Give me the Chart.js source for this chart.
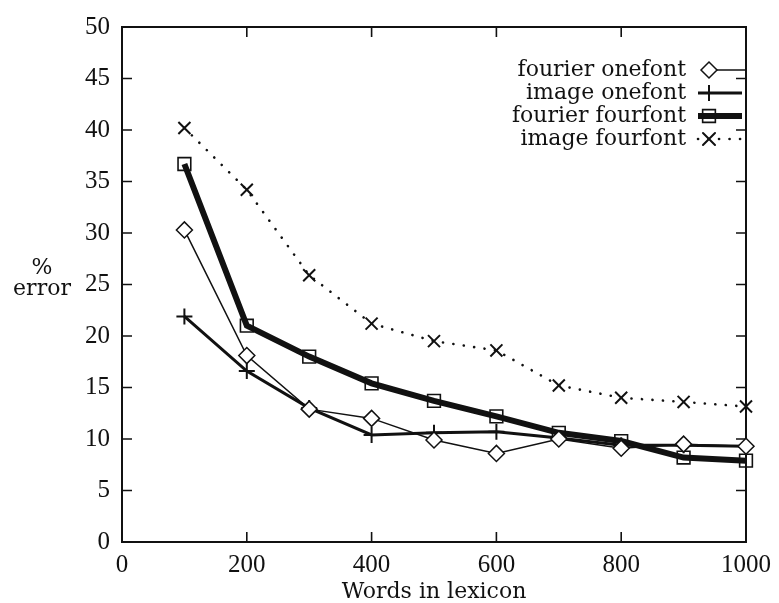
<!DOCTYPE html>
<html><head><meta charset="utf-8">
<script src="https://cdn.jsdelivr.net/npm/chart.js@4.4.1/dist/chart.umd.min.js"></script>
<style>html,body{margin:0;padding:0;background:#fff;}canvas{display:block;}</style>
</head><body>
<canvas id="c" width="779" height="603"></canvas>
<script>
// ---- data ----
const words = [100, 200, 300, 400, 500, 600, 700, 800, 900, 1000];
const xTickValues = [0, 200, 400, 600, 800, 1000];
const yTickValues = [0, 5, 10, 15, 20, 25, 30, 35, 40, 45, 50];
const fourierOnefont = [30.3, 18.1, 12.9, 12.0, 9.9, 8.6, 10.0, 9.1, 9.5, 9.3];
const imageOnefont   = [21.9, 16.6, 13.0, 10.4, 10.6, 10.7, 10.1, 9.4, 9.4, 9.3];
const fourierFourfont= [36.7, 21.0, 18.0, 15.4, 13.7, 12.2, 10.6, 9.8, 8.2, 7.9];
const imageFourfont  = [40.2, 34.2, 25.9, 21.2, 19.5, 18.6, 15.2, 14.0, 13.6, 13.15];
const seriesLabels = ['fourier onefont', 'image onefont', 'fourier fourfont', 'image fourfont'];
const xTitle = 'Words in lexicon';
const yTitleLines = ['%', 'error'];

const INK = '#111111';
const TEXT_FONT = '"DejaVu Serif", serif';
const NUM_FONT = '"Liberation Serif", serif';

function pts(arr) { return words.map((w, i) => ({ x: w, y: arr[i] })); }

const datasets = [
  { label: seriesLabels[0], data: pts(fourierOnefont), borderColor: INK, borderWidth: 1.5,
    pointStyle: 'rectRot', pointRadius: 8, pointBorderWidth: 1.5, pointBackgroundColor: '#fff', pointBorderColor: INK },
  { label: seriesLabels[1], data: pts(imageOnefont), borderColor: INK, borderWidth: 3,
    pointStyle: 'cross', pointRadius: 8, pointBorderWidth: 2, pointBackgroundColor: INK, pointBorderColor: INK },
  { label: seriesLabels[2], data: pts(fourierFourfont), borderColor: INK, borderWidth: 6,
    pointStyle: 'rect', pointRadius: 9, pointBorderWidth: 1.6, pointBackgroundColor: 'rgba(0,0,0,0)', pointBorderColor: INK },
  { label: seriesLabels[3], data: pts(imageFourfont), borderColor: INK, borderWidth: 2.6, borderDash: [0.1, 10.4], borderCapStyle: 'round',
    pointStyle: 'crossRot', pointRadius: 8.5, pointBorderWidth: 2, pointBackgroundColor: INK, pointBorderColor: INK }
];
datasets.forEach(d => { d.fill = false; d.tension = 0; d.clip = false; d.pointHoverRadius = d.pointRadius; });

const framePlugin = {
  id: 'frame',
  beforeDraw(chart) {
    const c = chart.ctx;
    c.save(); c.fillStyle = '#fff'; c.fillRect(0, 0, chart.width, chart.height); c.restore();
  },
  beforeDatasetsDraw(chart) {
    const c = chart.ctx, a = chart.chartArea, sx = chart.scales.x, sy = chart.scales.y;
    const TL = 10;
    c.save();
    c.strokeStyle = INK; c.lineWidth = 2;
    c.strokeRect(a.left, a.top, a.right - a.left, a.bottom - a.top);
    c.lineWidth = 1.6;
    c.beginPath();
    xTickValues.forEach(v => {
      const px = sx.getPixelForValue(v);
      c.moveTo(px, a.bottom); c.lineTo(px, a.bottom - TL);
      c.moveTo(px, a.top); c.lineTo(px, a.top + TL);
    });
    yTickValues.forEach(v => {
      const py = sy.getPixelForValue(v);
      c.moveTo(a.left, py); c.lineTo(a.left + TL, py);
      c.moveTo(a.right, py); c.lineTo(a.right - TL, py);
    });
    c.stroke();
    // axis titles
    c.fillStyle = INK;
    c.font = '22px ' + TEXT_FONT;
    c.textAlign = 'center'; c.textBaseline = 'middle';
    c.fillText(xTitle, (a.left + a.right) / 2, 592);
    c.fillText(yTitleLines[0], 42, 268);
    c.fillText(yTitleLines[1], 42, 289);
    c.restore();
  },
  afterDatasetsDraw(chart) {
    const c = chart.ctx;
    const rowsY = [70, 93, 116, 139];
    const textRight = 686, lineStart = 698, lineEnd = 742, markX = 709;
    c.save();
    chart.data.datasets.forEach((d, i) => {
      const y = rowsY[i];
      c.fillStyle = INK;
      c.font = '22px ' + TEXT_FONT;
      c.textAlign = 'right'; c.textBaseline = 'middle';
      c.fillText(d.label, textRight, y);
      c.strokeStyle = INK;
      c.lineWidth = d.borderWidth;
      c.lineCap = d.borderCapStyle || 'butt';
      c.setLineDash(d.borderDash || []);
      c.beginPath();
      if (i === 0) { c.moveTo(markX, y); c.lineTo(chart.chartArea.right, y); }
      else { c.moveTo(lineStart, y); c.lineTo(lineEnd, y); }
      c.stroke();
      c.setLineDash([]);
      c.lineWidth = d.pointBorderWidth;
      c.fillStyle = d.pointBackgroundColor;
      Chart.helpers.drawPoint(c, { pointStyle: d.pointStyle, radius: d.pointRadius, rotation: 0, borderWidth: d.pointBorderWidth }, markX, y);
    });
    c.restore();
  }
};

new Chart(document.getElementById('c'), {
  type: 'line',
  data: { datasets },
  options: {
    responsive: false,
    devicePixelRatio: 1,
    animation: false,
    events: [],
    layout: { padding: { top: 15.5, right: 31, left: 0, bottom: 0 } },
    plugins: { legend: { display: false }, tooltip: { enabled: false }, title: { display: false } },
    scales: {
      x: {
        type: 'linear', min: 0, max: 1000,
        afterFit(s) { s.height = 61; },
        afterBuildTicks(s) { s.ticks = xTickValues.map(v => ({ value: v })); },
        grid: { display: false, drawTicks: false },
        border: { display: false },
        ticks: { color: INK, font: { family: NUM_FONT, size: 25 }, padding: 8, maxRotation: 0, autoSkip: false,
                 callback: v => String(v) }
      },
      y: {
        type: 'linear', min: 0, max: 50,
        afterFit(s) { s.width = 122; },
        afterBuildTicks(s) { s.ticks = yTickValues.map(v => ({ value: v })); },
        grid: { display: false, drawTicks: false },
        border: { display: false },
        ticks: { color: INK, font: { family: NUM_FONT, size: 25 }, padding: 12, autoSkip: false,
                 callback: v => String(v) }
      }
    }
  },
  plugins: [framePlugin]
});
</script>
</body></html>
